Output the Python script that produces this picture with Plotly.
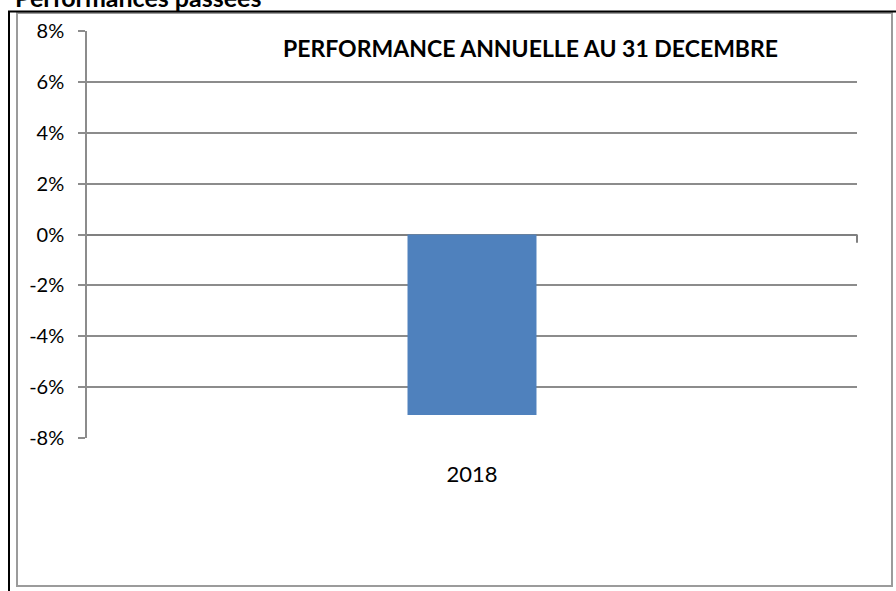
import plotly.graph_objects as go

categories = ["2018"]
values = [-7.1]
y_tick_vals = [-8, -6, -4, -2, 0, 2, 4, 6, 8]
y_tick_text = ["-8%", "-6%", "-4%", "-2%", "0%", "2%", "4%", "6%", "8%"]
title_text = "PERFORMANCE ANNUELLE AU 31 DECEMBRE"
header_text = "Performances passées"

W, H = 896, 591
L, R, T, B = 87, 857, 31, 438  # plot area in pixels


def px(x):
    return (x - L) / (R - L)


def py(y):
    return (B - y) / (B - T)


FONT = "Lato, Calibri, 'Noto Sans', sans-serif"
GRID = "#8c8c8c"

fig = go.Figure(go.Bar(
    x=categories, y=values, width=0.1675,
    marker=dict(color="#4F81BD", line=dict(width=0)),
    hoverinfo="skip",
))

fig.update_layout(
    width=W, height=H,
    margin=dict(l=L, r=W - R, t=T, b=H - B),
    paper_bgcolor="white", plot_bgcolor="white",
    showlegend=False,
    font=dict(family=FONT, size=20, color="black"),
    xaxis=dict(
        range=[-0.5, 0.5], showgrid=False, zeroline=False, showline=False,
        ticks="", ticklabelstandoff=21, tickfont=dict(size=22),
        fixedrange=True,
    ),
    yaxis=dict(
        range=[-8, 8], tickvals=y_tick_vals, ticktext=y_tick_text,
        showgrid=True, gridcolor=GRID, gridwidth=1.5,
        zeroline=True, zerolinecolor="#808080", zerolinewidth=2,
        showline=True, linecolor=GRID, linewidth=1.5,
        ticks="outside", ticklen=7, tickcolor=GRID, tickwidth=1.5,
        tickfont=dict(size=20), ticklabelstandoff=10,
        fixedrange=True,
    ),
)

shapes = [
    # chart gray frame
    dict(type="rect", xref="paper", yref="paper",
         x0=px(17), x1=px(892), y0=py(586), y1=py(13),
         line=dict(color="#9b9b9b", width=2), layer="below"),
    # black page lines
    dict(type="line", xref="paper", yref="paper",
         x0=px(9), x1=px(9), y0=py(592), y1=py(11),
         line=dict(color="black", width=2)),
    dict(type="line", xref="paper", yref="paper",
         x0=px(8), x1=px(897), y0=py(11.5), y1=py(11.5),
         line=dict(color="black", width=2)),
    # small tick at right end of category axis
    dict(type="line", xref="x domain", yref="y",
         x0=1, x1=1, y0=0, y1=-0.32,
         line=dict(color="#808080", width=2)),
]
fig.update_layout(shapes=shapes)

fig.add_annotation(
    text="<b>" + title_text + "</b>", xref="paper", yref="paper",
    x=px(530), y=py(48), xanchor="center", yanchor="middle",
    showarrow=False, font=dict(family=FONT, size=23, color="black"),
)
fig.add_annotation(
    text="<b>" + header_text + "</b>", xref="paper", yref="paper",
    x=px(13), y=py(14), xanchor="left", yanchor="bottom",
    showarrow=False, font=dict(family=FONT, size=25, color="black"),
)

fig.write_html(
    "out.html",
    config={"displayModeBar": False},
    post_script="document.body.style.margin='0';document.body.style.overflow='hidden';",
)
